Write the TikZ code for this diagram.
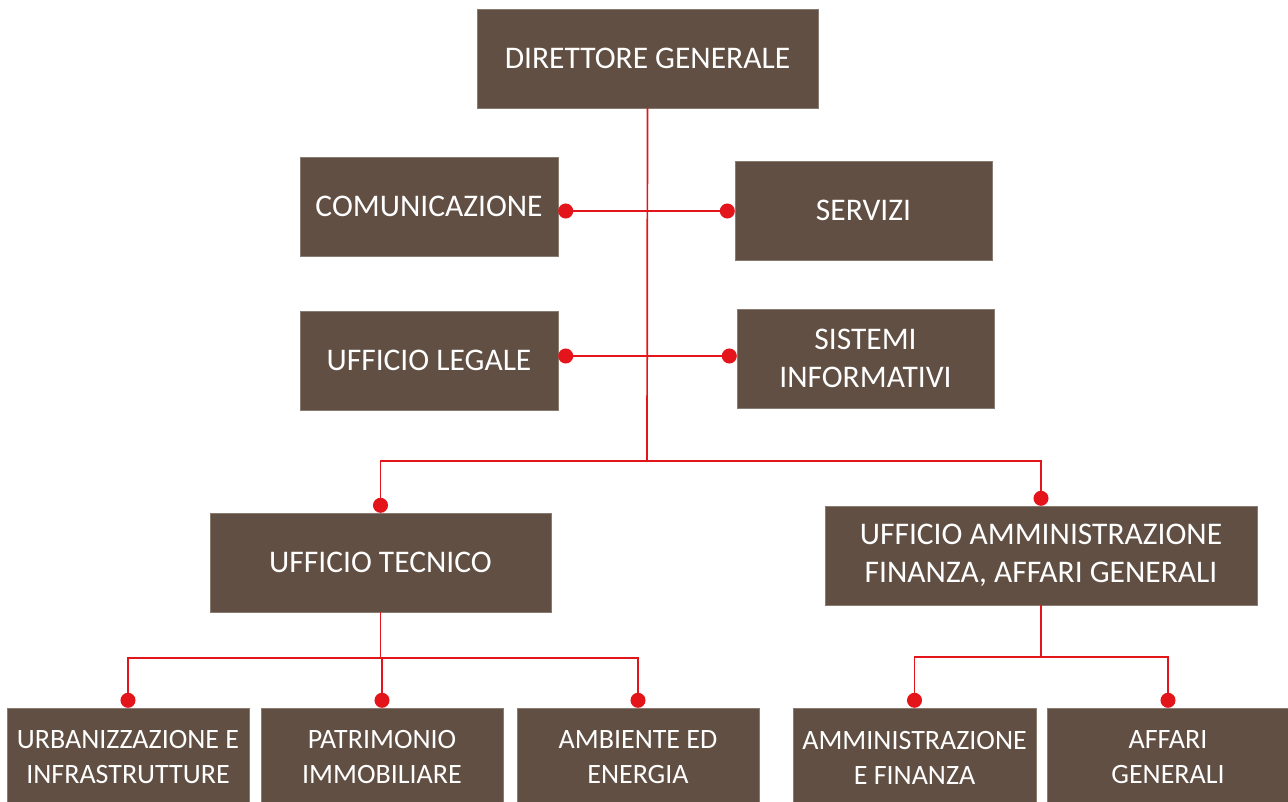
\documentclass[tikz,border=0pt]{standalone}
\usepackage{fontspec}
\setmainfont{Carlito}
\usetikzlibrary{arrows.meta}
\definecolor{boxbrown}{RGB}{97,79,67}
\definecolor{linkred}{RGB}{227,20,26}
\tikzset{
  unit/.style={draw=boxbrown!75!white, fill=boxbrown, text=white, align=center,
    minimum height=99pt, inner sep=0pt, font=\fontsize{31.5}{38}\selectfont},
  subunit/.style={unit, minimum width=242pt, font=\fontsize{28}{35}\selectfont},
  link/.style={draw=linkred, line width=1.7pt},
  dot/.style={link, -{Circle[length=15pt,width=15pt]}},
  dots/.style={link, {Circle[length=15pt,width=15pt]}-{Circle[length=15pt,width=15pt]}},
}

\begin{document}
\begin{tikzpicture}[x=1pt,y=-1pt]
  \useasboundingbox (0,0) rectangle (1288,802);

  % top
  \node[unit, minimum width=341pt] (dg) at (647.5,58.5) {DIRETTORE GENERALE};

  % staff offices
  \node[unit, minimum width=258pt] (com) at (429,206.5) {COMUNICAZIONE};
  \node[unit, minimum width=257pt] (serv) at (863.5,210.5) {SERVIZI};
  \node[unit, minimum width=258pt] (leg) at (429,360.5) {UFFICIO LEGALE};
  \node[unit, minimum width=257pt] (sis) at (865.5,358.5) {SISTEMI\\INFORMATIVI};

  % offices
  \node[unit, minimum width=341pt] (tec) at (380.5,562.5) {UFFICIO TECNICO};
  \node[unit, minimum width=432pt] (amm) at (1041,555.5) {UFFICIO AMMINISTRAZIONE\\FINANZA, AFFARI GENERALI};

  % units
  \node[subunit] (urb) at (128,757.5) {URBANIZZAZIONE E\\INFRASTRUTTURE};
  \node[subunit] (pat) at (382,757.5) {PATRIMONIO\\IMMOBILIARE};
  \node[subunit] (amb) at (638,757.5) {AMBIENTE ED\\ENERGIA};
  \node[subunit, minimum width=243pt] (amf) at (914.5,757.5) {AMMINISTRAZIONE\\E FINANZA};
  \node[subunit] (aff) at (1168,757.5) {AFFARI\\GENERALI};

  % connectors
  \coordinate (row1) at (647,211);
  \coordinate (row2) at (647,356);
  \coordinate (fork) at (647,461);
  \draw[link] (dg.south) -- (fork);
  \draw[dots] (com.east |- row1) -- (serv.west |- row1);
  \draw[dots] (leg.east |- row2) -- (sis.west |- row2);
  \draw[dot] (fork) -| (tec.north);
  \draw[dot] (fork) -| (amm.north);

  \coordinate (tecfork) at (380.5,658);
  \draw[link] (tec.south) -- (tecfork);
  \draw[dot] (tecfork) -| (urb.north);
  \draw[dot] (tecfork) -| (pat.north);
  \draw[dot] (tecfork) -| (amb.north);

  \coordinate (ammfork) at (1041,657);
  \draw[link] (amm.south) -- (ammfork);
  \draw[dot] (ammfork) -| (amf.north);
  \draw[dot] (ammfork) -| (aff.north);
\end{tikzpicture}
\end{document}
